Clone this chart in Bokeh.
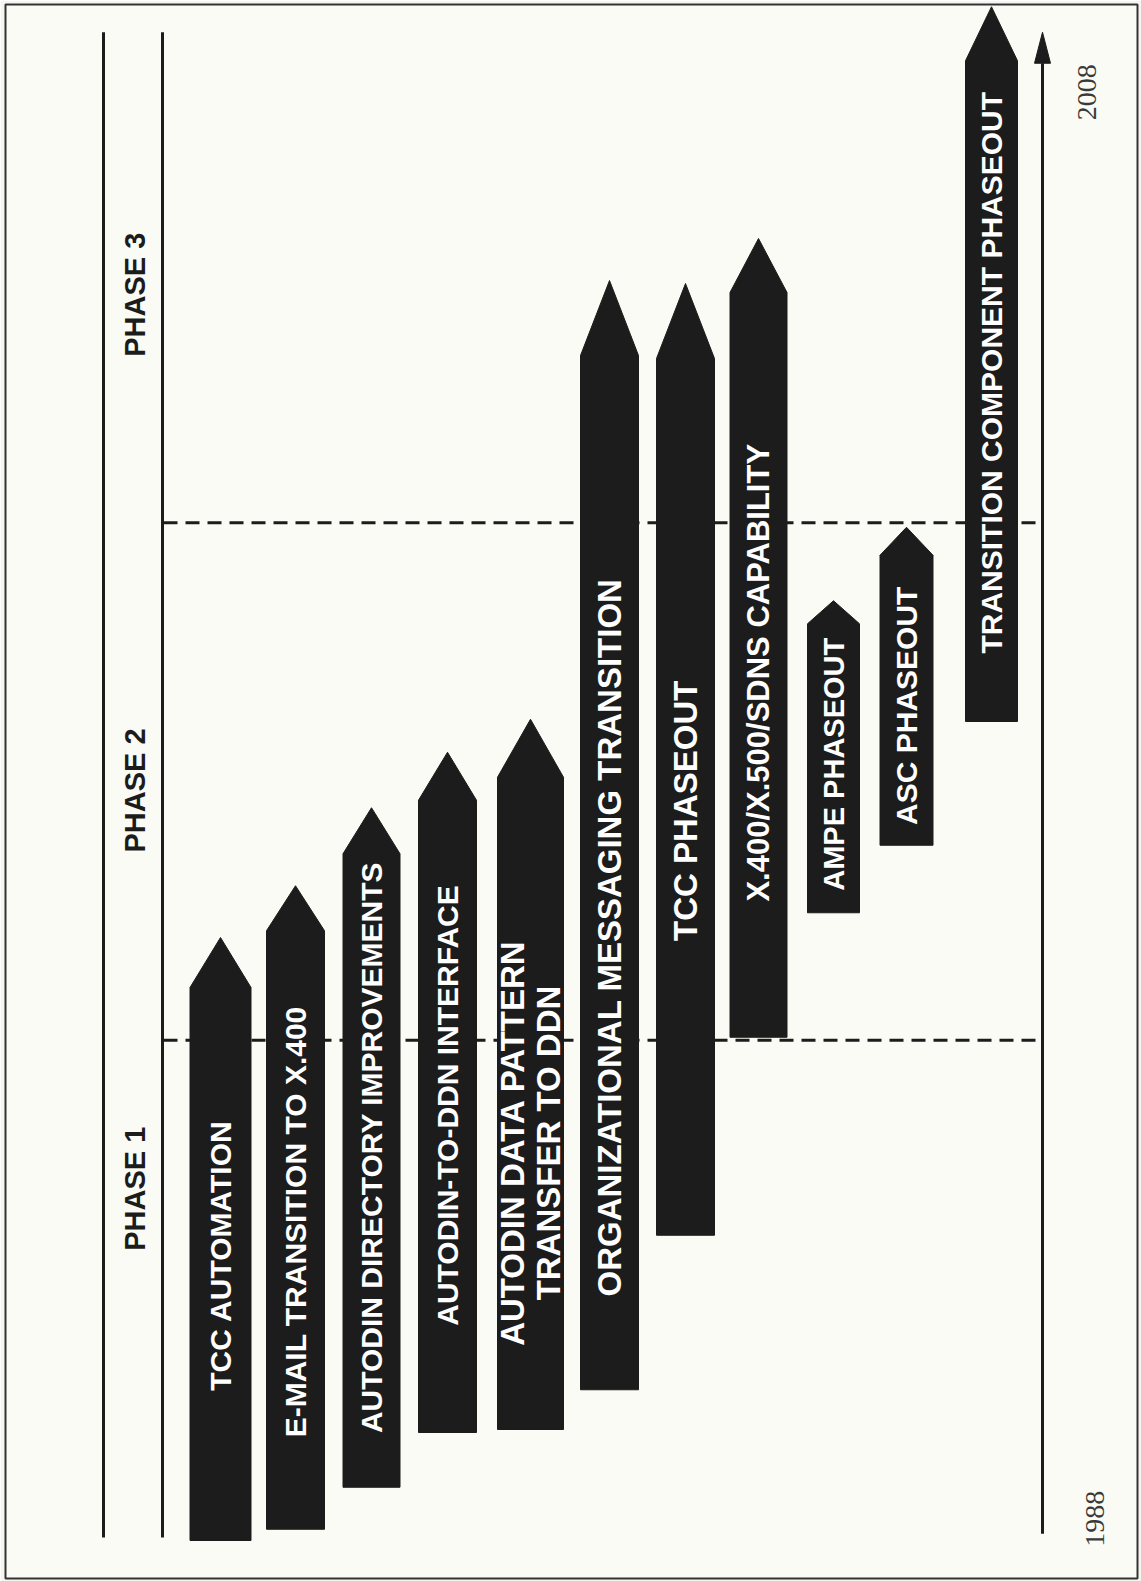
import math
from bokeh.plotting import figure
from bokeh.models import Range1d, ColumnDataSource
from bokeh.core.properties import value
from bokeh.embed import file_html
from bokeh.resources import INLINE

# ---------------- data (years) ----------------
tasks = [
    "TCC AUTOMATION",
    "E-MAIL TRANSITION TO X.400",
    "AUTODIN DIRECTORY IMPROVEMENTS",
    "AUTODIN-TO-DDN INTERFACE",
    "AUTODIN DATA PATTERN\nTRANSFER TO DDN",
    "ORGANIZATIONAL MESSAGING TRANSITION",
    "TCC PHASEOUT",
    "X.400/X.500/SDNS CAPABILITY",
    "AMPE PHASEOUT",
    "ASC PHASEOUT",
    "TRANSITION COMPONENT PHASEOUT",
]
start_year = [1988.00, 1988.15, 1988.71, 1989.44, 1989.48, 1990.01,
              1992.07, 1994.71, 1996.37, 1997.27, 1998.92]
end_year = [1996.04, 1996.73, 1997.77, 1998.51, 1998.95, 2004.80,
            2004.76, 2005.36, 2000.53, 2001.51, 2008.45]
phases = ["PHASE 1", "PHASE 2", "PHASE 3"]
phase_boundaries = [1994.67, 2001.57]
timeline_start = 1988.09
timeline_end = 2008.11
year_ticks = ["1988", "2008"]
year_tick_values = [1988.29, 2007.31]

# ---------------- layout (positions / sizes in screen px) ----------------
PX_PER_YEAR = 75.0
arrow_x = [220, 295, 371, 447, 530, 609, 685, 758, 833, 906, 991]
arrow_w = [61, 58, 57, 58, 66, 58, 58, 57, 52, 53, 52]
head_px = [50, 45, 46, 48, 58, 75, 75, 54, 23, 28, 54]
label_year = [1991.80, 1992.25, 1993.24, 1993.80, 1993.30, 1996.04,
              1997.73, 1999.57, 1998.35, 1999.13, 2003.57]
label_size = ["30px", "30px", "30px", "30px", "33px", "33px",
              "33px", "31px", "29px", "30px", "30px"]
phase_label_x = 134
phase_label_year = [1992.69, 1998.00, 2004.61]
phase_line_x = [103, 162]
dash_x0, dash_x1 = 163, 1042
timeline_x = 1042
year_label_x = [1094, 1086]

INK = "#1c1c1c"
PAPER = "#fbfbf5"

W, H = 1141, 1581
FL, FT, FR, FB = 5, 4, 4, 3   # frame border (outline) insets


def yr(py):
    return 1988 + (1540 - py) / PX_PER_YEAR


p = figure(width=W, height=H,
           x_range=Range1d(FL, W - FR), y_range=Range1d(yr(H - FB), yr(FT)),
           x_axis_type=None, y_axis_type=None, output_backend="svg",
           toolbar_location=None, min_border_left=FL, min_border_top=FT,
           min_border_right=FR, min_border_bottom=FB)
p.grid.visible = False
p.background_fill_color = PAPER
p.border_fill_color = "#f6f6f0"
p.outline_line_color = "#333333"
p.outline_line_width = 2

# phase column lines
p.segment(x0=phase_line_x, y0=[timeline_start - 0.05] * 2, x1=phase_line_x,
          y1=[timeline_end] * 2, line_color=INK, line_width=3)

# dashed phase boundaries
p.segment(x0=[dash_x0] * 2, y0=phase_boundaries, x1=[dash_x1] * 2, y1=phase_boundaries,
          line_color=INK, line_width=3, line_dash="14 8")

# timeline arrow
head_len = 31 / PX_PER_YEAR
p.segment(x0=[timeline_x], y0=[timeline_start], x1=[timeline_x], y1=[timeline_end - head_len],
          line_color=INK, line_width=3)
p.patch(x=[timeline_x - 8, timeline_x, timeline_x + 8],
        y=[timeline_end - head_len, timeline_end, timeline_end - head_len],
        fill_color=INK, line_color=INK)

# task arrows
xs, ys = [], []
for xc, w, y0, y1, hp in zip(arrow_x, arrow_w, start_year, end_year, head_px):
    h = hp / PX_PER_YEAR
    xs.append([xc - w / 2, xc + w / 2, xc + w / 2, xc, xc - w / 2])
    ys.append([y0, y0, y1 - h, y1, y1 - h])
p.patches(xs=xs, ys=ys, fill_color=INK, line_color=INK, line_width=1)

src = ColumnDataSource(dict(x=arrow_x, y=label_year, text=tasks, size=label_size))
p.text(x="x", y="y", text="text", source=src, angle=math.pi / 2,
       text_align="center", text_baseline="middle", text_color="white",
       text_font=value("Liberation Sans"), text_font_style="bold",
       text_font_size="size", text_line_height=0.95)

# phase labels
p.text(x=[phase_label_x] * 3, y=phase_label_year, text=phases, angle=math.pi / 2,
       text_align="center", text_baseline="middle", text_color=INK,
       text_font=value("Liberation Sans"), text_font_style="bold", text_font_size="29px")

# year labels
p.text(x=year_label_x, y=year_tick_values, text=year_ticks, angle=math.pi / 2,
       text_align="center", text_baseline="middle", text_color="#3a3a3a",
       text_font=value("Liberation Serif"), text_font_size="28px")

open("out.html", "w").write(file_html(p, INLINE))
